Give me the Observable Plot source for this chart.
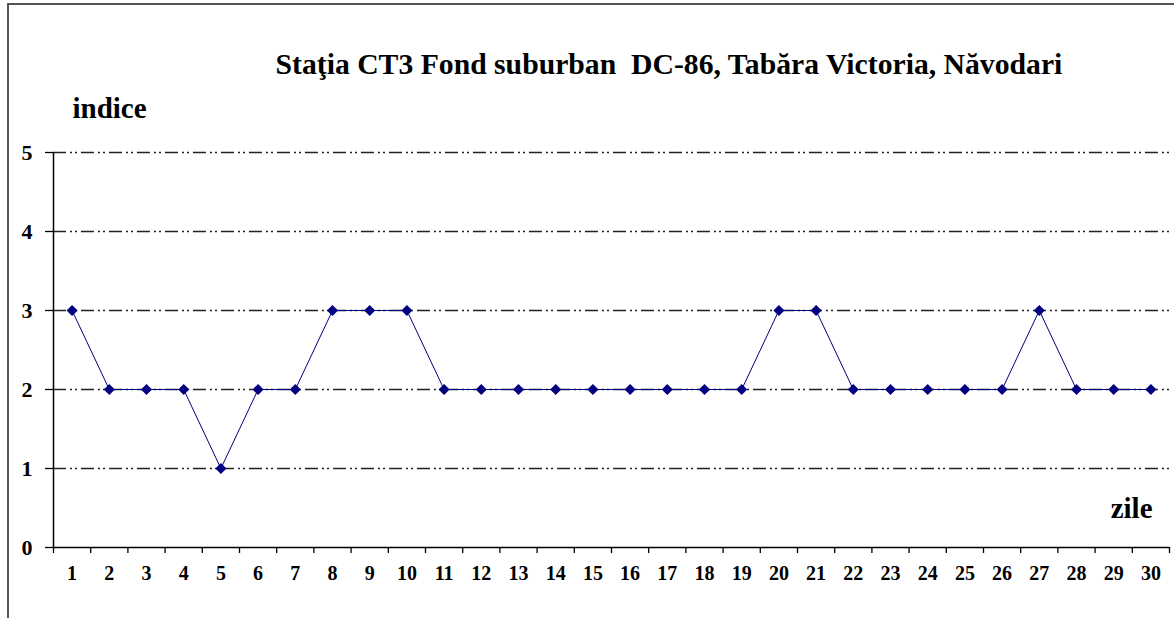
<!DOCTYPE html>
<html>
<head>
<meta charset="utf-8">
<script src="https://cdn.jsdelivr.net/npm/d3@7"></script>
<script src="https://cdn.jsdelivr.net/npm/@observablehq/plot@0.6"></script>
<style>
  html, body { margin: 0; padding: 0; background: #fff; }
  #wrap { position: relative; width: 1174px; height: 618px; overflow: hidden; }
  #frame { position: absolute; left: 7px; top: 3px; width: 1200px; height: 700px;
           border-top: 2px solid #555; border-left: 2px solid #555; }
  #chart { position: absolute; left: 0; top: 0; }
</style>
</head>
<body>
<div id="wrap"><div id="frame"></div><div id="chart"></div></div>
<script>
const titleText = "Staţia CT3 Fond suburban  DC-86, Tabăra Victoria, Năvodari";
const yLabel = "indice";
const xLabel = "zile";
const days = d3.range(1, 31);
const values = [3,2,2,2,1,2,2,3,3,3,2,2,2,2,2,2,2,2,2,3,3,2,2,2,2,2,3,2,2,2];
const yTicks = [0,1,2,3,4,5];
const gridLevels = [1,2,3,4,5];
const boundaries = d3.range(0.5, 31, 1);

const data = days.map((d, i) => ({day: d, value: values[i]}));
const serif = "Liberation Serif";

const chart = Plot.plot({
  width: 1174,
  height: 618,
  marginLeft: 53,
  marginRight: 5,
  marginTop: 152,
  marginBottom: 71,
  style: {color: "#000", background: "transparent", overflow: "visible"},
  x: {type: "linear", domain: [0.5, 30.5], axis: null},
  y: {domain: [0, 5], axis: null},
  marks: [
    Plot.ruleY(gridLevels, {x1: 0.5, x2: 30.5, stroke: "#222", strokeWidth: 1.4, strokeDasharray: "13,4,2,3,2,4"}),
    Plot.axisY(yTicks, {tickSize: 8, tickPadding: 13, tickFormat: d3.format("d"), fontSize: 22, fontFamily: serif, fontWeight: "bold", stroke: "#000", strokeWidth: 1.3, label: null}),
    Plot.axisX(boundaries, {tickSize: 6, tickFormat: () => "", stroke: "#000", strokeWidth: 1.3, label: null}),
    Plot.axisX(days, {tickSize: 0, tickPadding: 18, tickFormat: d3.format("d"), fontSize: 20, fontFamily: serif, fontWeight: "bold", label: null}),
    Plot.ruleY([0], {stroke: "#000", strokeWidth: 1.5}),
    Plot.ruleX([0.5], {stroke: "#000", strokeWidth: 1.5}),
    Plot.line(data, {x: "day", y: "value", stroke: "#000080", strokeWidth: 1}),
    Plot.dot(data, {x: "day", y: "value", symbol: "diamond2", r: 5, fill: "#000080", stroke: "none"}),
    Plot.text([titleText], {frameAnchor: "top-left", dx: 222, dy: -79, lineAnchor: "bottom", textAnchor: "start", fontSize: 29.7, fontFamily: serif, fontWeight: "bold", fill: "#000"}),
    Plot.text([yLabel], {frameAnchor: "top-left", dx: 19, dy: -35, lineAnchor: "bottom", textAnchor: "start", fontSize: 29, fontFamily: serif, fontWeight: "bold", fill: "#000"}),
    Plot.text([xLabel], {frameAnchor: "bottom-right", dx: -17, dy: -30, lineAnchor: "bottom", textAnchor: "end", fontSize: 29, fontFamily: serif, fontWeight: "bold", fill: "#000"})
  ]
});
document.getElementById("chart").appendChild(chart);
</script>
</body>
</html>
